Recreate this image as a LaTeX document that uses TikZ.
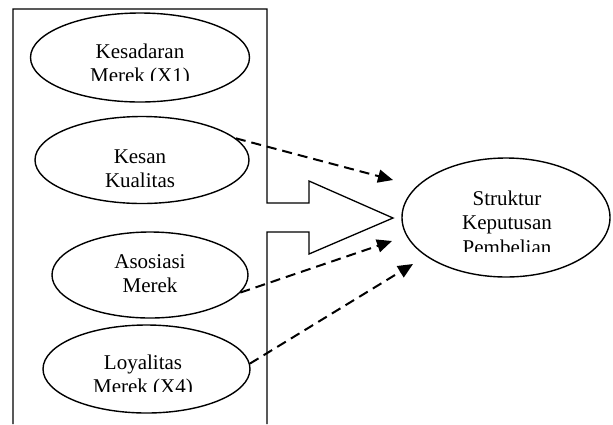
\documentclass[tikz,border=0pt]{standalone}
\usepackage{fontspec}
\setmainfont{Liberation Serif}
\usetikzlibrary{arrows.meta,shapes.geometric}

\begin{document}
\begin{tikzpicture}[x=1pt, y=-1pt,
    oval/.style={ellipse, draw=black, line width=1.4pt, inner sep=0pt},
    lbl/.style={align=center, inner sep=0pt, anchor=base, font=\fontsize{21}{24.5}\selectfont},
    outline/.style={draw=black, line width=1.3pt},
    dasharrow/.style={-{Triangle[length=15pt, width=13pt]}, line width=2pt, dash pattern=on 10pt off 6pt}
]
\useasboundingbox (0,0) rectangle (613,424);

\draw[outline] (13,424) -- (13,9) -- (267,9) -- (267,203) -- (309,203) -- (309,181)
    -- (393,218) -- (309,254) -- (309,232) -- (267,232) -- (267,424);

\node[oval, minimum width=219pt, minimum height=89pt] (x1) at (140,57.5) {};
\node[oval, minimum width=214pt, minimum height=87pt] (x2) at (142,160) {};
\node[oval, minimum width=196pt, minimum height=86pt] (x3) at (150,275) {};
\node[oval, minimum width=207pt, minimum height=88pt] (x4) at (146.5,369) {};
\node[oval, minimum width=208pt, minimum height=119pt] (y) at (506,217.5) {};

% teks (baseline = baris terakhir)
\begin{scope}
  \clip (20,10) rectangle (260,80.5);
  \node[lbl] (x1text) at (140,82.5) {Kesadaran\\Merek (X1)};
\end{scope}
\node[lbl] (x2text) at (140,187.5) {Kesan\\Kualitas};
\node[lbl] (x3text) at (150,292.5) {Asosiasi\\Merek};
\begin{scope}
  \clip (20,330) rectangle (260,391);
  \node[lbl] (x4text) at (143,393.5) {Loyalitas\\Merek (X4)};
\end{scope}
\begin{scope}
  \clip (410,160) rectangle (605,251);
  \node[lbl] (ytext) at (507,254) {Struktur\\Keputusan\\Pembelian};
\end{scope}

\coordinate (t1) at (393,180);
\coordinate (t2) at (392,241);
\coordinate (t3) at (413,264);

\draw[dasharrow] (x2.13) -- (t1);
\draw[dasharrow] (x3.-11) -- (t2);
\draw[dasharrow] (x4.3) -- (t3);

\end{tikzpicture}
\end{document}
